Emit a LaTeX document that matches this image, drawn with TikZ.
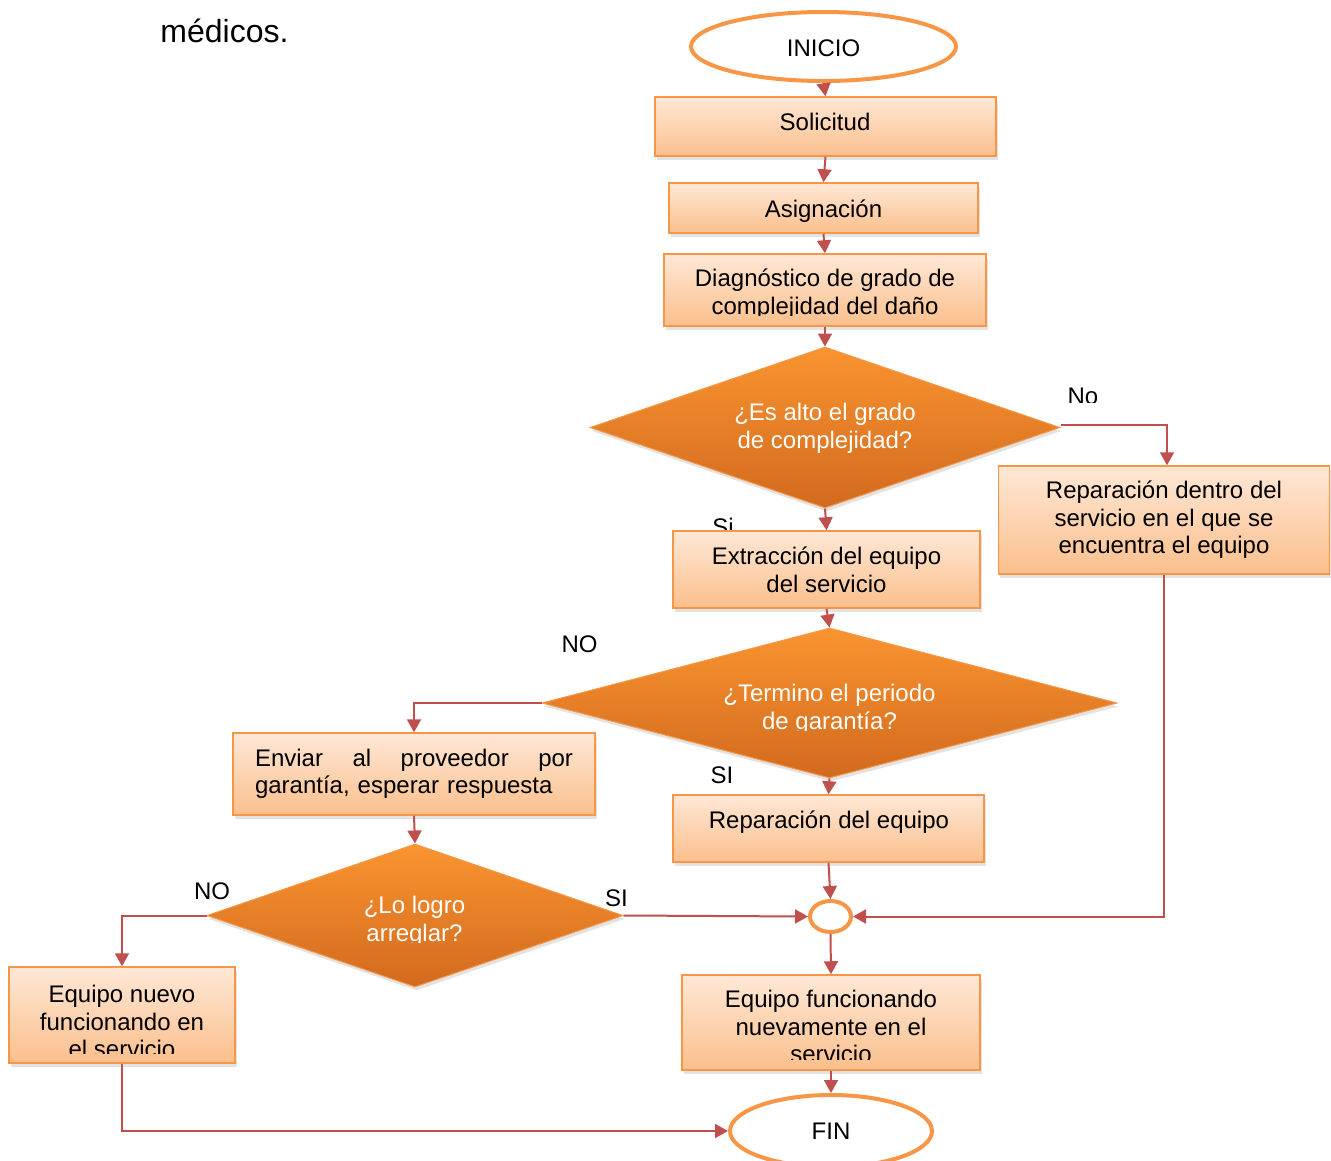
\documentclass[tikz,border=0pt]{standalone}
\usepackage{fontspec}
\setmainfont{Liberation Sans}
\usetikzlibrary{shapes.geometric,arrows.meta,shadows}
\definecolor{boxline}{RGB}{247,150,70}
\definecolor{boxtop}{RGB}{254,232,214}
\definecolor{boxbot}{RGB}{251,191,140}
\definecolor{diatop}{RGB}{249,148,48}
\definecolor{diabot}{RGB}{210,106,30}
\definecolor{arrcol}{RGB}{192,80,77}
\setlength{\parindent}{0pt}
\tikzset{
  procbox/.style={rectangle, draw=boxline, line width=1.5pt, top color=boxtop, bottom color=boxbot, inner sep=0pt,
    drop shadow={opacity=0.22, shadow xshift=1.5pt, shadow yshift=-3.5pt}},
  decision/.style={diamond, draw=boxline, line width=1pt, top color=diatop, bottom color=diabot, inner sep=0pt,
    drop shadow={opacity=0.22, shadow xshift=1.5pt, shadow yshift=-3.5pt}},
  terminal/.style={ellipse, draw=boxline, line width=4pt, fill=white, inner sep=0pt},
  txt/.style={font=\fontsize{24}{27.5}\selectfont, align=center, inner sep=0pt,
    execute at begin node={\rule{0pt}{18pt}}, execute at end node={\rule[-6pt]{0pt}{6pt}}},
  wtxt/.style={txt, text=white},
  lbl/.style={font=\fontsize{24}{27.5}\selectfont, inner sep=0pt, anchor=base},
  flow/.style={draw=arrcol, line width=2pt, -{Triangle[length=13pt,width=14pt]}},
  plain/.style={draw=arrcol, line width=2pt}
}
\begin{document}
\begin{tikzpicture}[x=1pt,y=-1pt]
\useasboundingbox (0,0) rectangle (1331,1160);

\node[lbl, font=\fontsize{32}{38}\selectfont] (med) at (224.5,42) {médicos.};

% shapes and texts
\node[terminal, minimum width=265pt, minimum height=69pt] (ini) at (823.5,46.5) {};
\node[lbl] (iniT) at (823.5,56.7) {INICIO};

\node[procbox, minimum width=341pt, minimum height=59pt] (sol) at (825.5,126.5) {};
\node[lbl] (solT) at (825,130) {Solicitud};

\node[procbox, minimum width=309pt, minimum height=50pt] (asig) at (823.5,208) {};
\node[lbl] (asigT) at (823.5,217) {Asignación};

\node[procbox, minimum width=322pt, minimum height=72pt] (diag) at (825,290) {};
\begin{scope}
\clip (664,254) rectangle (986,315);
\node[txt] (diagT) at (825,294.75) {Diagnóstico de grado de\\complejidad del daño};
\end{scope}

\node[decision, minimum width=470pt, minimum height=161pt] (d1) at (825,427.5) {};
\node[wtxt] (d1T) at (825,428.75) {¿Es alto el grado\\de complejidad?};

\begin{scope}
\clip (1050,370) rectangle (1120,402);
\node[lbl] (no1) at (1083,404) {No};
\end{scope}
\node[lbl] (si1) at (723,535) {Si};

\node[procbox, minimum width=331pt, minimum height=108pt] (repd) at (1164,520) {};
\node[txt] (repdT) at (1164,520.5) {Reparación dentro del\\servicio en el que se\\encuentra el equipo};

\node[procbox, minimum width=307pt, minimum height=77pt] (ext) at (826.5,569.5) {};
\node[txt] (extT) at (826.5,572.75) {Extracción del equipo\\del servicio};

\node[lbl] (no2) at (579.5,652) {NO};
\node[decision, minimum width=575pt, minimum height=150pt] (d2) at (829.5,703) {};
\begin{scope}
\clip (690,670) rectangle (970,730);
\node[wtxt] (d2T) at (829.5,709.75) {¿Termino el periodo\\de garantía?};
\end{scope}
\node[lbl] (si2) at (722,783) {SI};

\node[procbox, minimum width=362pt, minimum height=82pt] (env) at (414,774) {};
\node[txt, text width=318pt, align=left] (envT) at (414,773.75) {\hbox to 318pt{Enviar\hfill al\hfill proveedor\hfill por}\\garantía, esperar respuesta};

\node[procbox, minimum width=311pt, minimum height=67pt] (rep) at (828.5,828.5) {};
\node[lbl] (repT) at (829,828) {Reparación del equipo};

\node[lbl] (no3) at (212,899) {NO};
\node[lbl] (si3) at (616.5,906) {SI};
\node[decision, minimum width=416pt, minimum height=143pt] (d3) at (415,915.5) {};
\begin{scope}
\clip (300,880) rectangle (530,942);
\node[wtxt] (d3T) at (414.5,921.75) {¿Lo logro\\arreglar?};
\end{scope}

\node[procbox, minimum width=226pt, minimum height=96pt] (nuevo) at (122,1015) {};
\begin{scope}
\clip (9,970) rectangle (235,1053);
\node[txt] (nuevoT) at (122,1024.5) {Equipo nuevo\\funcionando en\\el servicio};
\end{scope}

\node[terminal, minimum width=41pt, minimum height=31pt] (jn) at (830.5,916.5) {};

\node[procbox, minimum width=298pt, minimum height=95pt] (func) at (831,1022.5) {};
\begin{scope}
\clip (682,978) rectangle (980,1059);
\node[txt] (funcT) at (831,1029.5) {Equipo funcionando\\nuevamente en el\\servicio};
\end{scope}

\node[terminal, minimum width=202pt, minimum height=72pt] (fin) at (831,1131) {};
\node[lbl] (finT) at (831,1139) {FIN};

% connectors
\draw[flow] (ini.south) -- (sol.north);
\draw[flow] (sol.south) -- (asig.north);
\draw[flow] (asig.south) -- (diag.north);
\draw[flow] (diag.south) -- (d1.north);
\draw[flow] (d1.south) -- (ext.north);
\draw[flow] ([yshift=3pt]d1.east) -| ([xshift=3pt]repd.north);
\draw[flow] (ext.south) -- (d2.north);
\draw[flow] (d2.west) -| (env.north);
\draw[flow] (d2.south) -- (rep.north);
\draw[flow] (env.south) -- (d3.north);
\draw[flow] (d3.west) -| (nuevo.north);
\draw[flow] (d3.east) -- (jn.west);
\draw[flow] (rep.south) -- (jn.north);
\draw[flow] (repd.south) |- (jn.east);
\draw[flow] (jn.south) -- (func.north);
\draw[flow] (func.south) -- (fin.north);
\draw[flow] (nuevo.south) |- (fin.west);
\end{tikzpicture}
\end{document}
